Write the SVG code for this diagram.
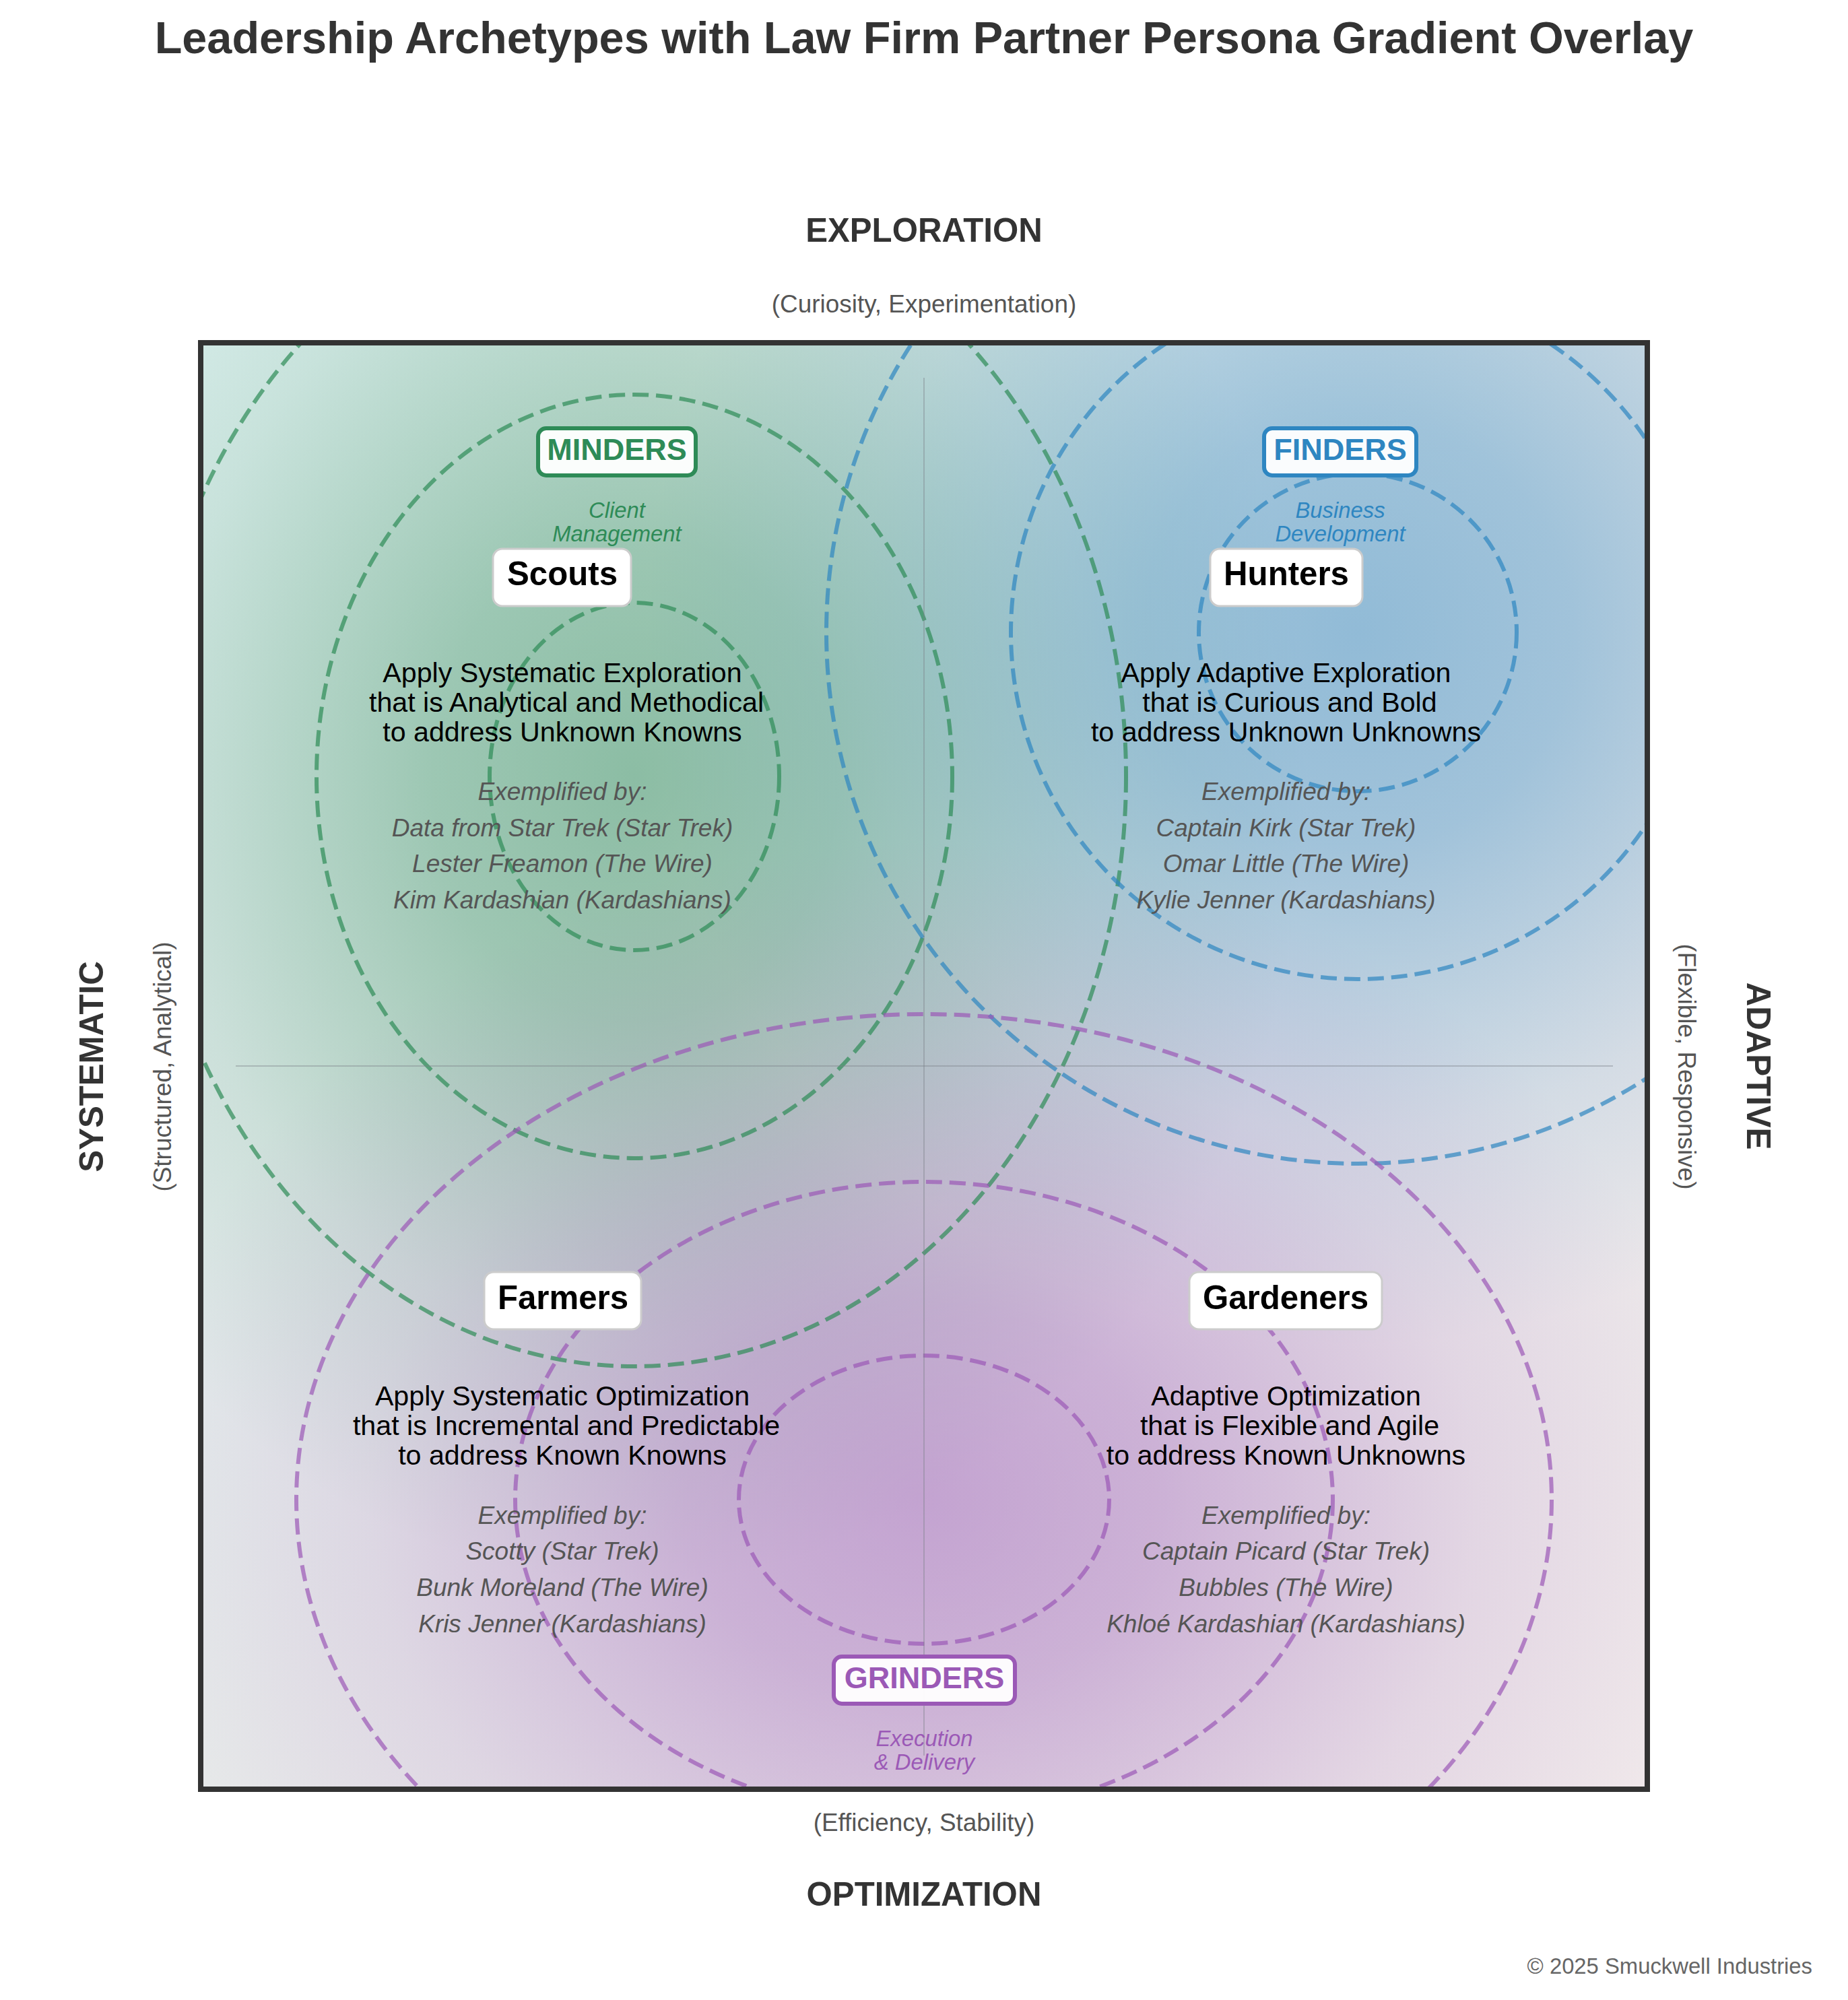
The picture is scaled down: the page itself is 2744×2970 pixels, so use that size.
<svg xmlns="http://www.w3.org/2000/svg" width="2744" height="2970" viewBox="0 0 2744 2970">
<defs>
<style>
text{font-family:"Liberation Sans",Arial,Helvetica,sans-serif;}
.title{font-size:66.6px;font-weight:bold;fill:#333;text-anchor:middle;}
.axis{font-size:49.2px;font-weight:bold;fill:#333;text-anchor:middle;}
.axsub{font-size:36.9px;fill:#555;text-anchor:middle;}
.copy{font-size:32.8px;fill:#666;text-anchor:end;}
.nbox{fill:#fff;stroke:#cccccc;stroke-width:3;}
.nname{font-size:49.2px;font-weight:bold;fill:#000;text-anchor:middle;}
.desc{font-size:41.2px;fill:#000;text-anchor:middle;}
.ex{font-size:37px;font-style:italic;fill:#555;text-anchor:middle;}
.lbox{fill:#fff;fill-opacity:0.95;stroke-width:6;}
.lname{font-size:45px;font-weight:bold;text-anchor:middle;}
.lsub{font-size:32.8px;font-style:italic;text-anchor:middle;}
.ring{fill:none;stroke-width:6;stroke-dasharray:24 11;stroke-opacity:0.7;}
.green{stroke:#2e8b57;}
.blue{stroke:#2e86c1;}
.purple{stroke:#9b59b6;}
.divider{stroke:#7a7f88;stroke-opacity:0.4;stroke-width:2;}
</style>
<clipPath id="frameClip"><rect x="298" y="509" width="2148" height="2148"/></clipPath>
<linearGradient id="baseGrad" gradientUnits="userSpaceOnUse" x1="298" y1="509" x2="2446" y2="2657">
<stop offset="0" stop-color="#dcefee"/>
<stop offset="0.5" stop-color="#e6e8e9"/>
<stop offset="1" stop-color="#efe7ea"/>
</linearGradient>
<radialGradient id="greenGrad" gradientUnits="userSpaceOnUse" cx="942" cy="1153" r="1000" gradientTransform="translate(942 1153) scale(1 1.2) translate(-942 -1153)">
<stop offset="0" stop-color="#2e8b57" stop-opacity="0.48"/>
<stop offset="0.3" stop-color="#2e8b57" stop-opacity="0.38"/>
<stop offset="0.7" stop-color="#2e8b57" stop-opacity="0.12"/>
<stop offset="1" stop-color="#2e8b57" stop-opacity="0"/>
</radialGradient>
<radialGradient id="blueGrad" gradientUnits="userSpaceOnUse" cx="2016" cy="939" r="1060">
<stop offset="0" stop-color="#2e86c1" stop-opacity="0.46"/>
<stop offset="0.3" stop-color="#2e86c1" stop-opacity="0.38"/>
<stop offset="0.7" stop-color="#2e86c1" stop-opacity="0.12"/>
<stop offset="1" stop-color="#2e86c1" stop-opacity="0"/>
</radialGradient>
<radialGradient id="purpleGrad" gradientUnits="userSpaceOnUse" cx="1372" cy="2227" r="980" gradientTransform="translate(1372 2227) scale(1.2 1) translate(-1372 -2227)">
<stop offset="0" stop-color="#9b59b6" stop-opacity="0.48"/>
<stop offset="0.3" stop-color="#9b59b6" stop-opacity="0.38"/>
<stop offset="0.7" stop-color="#9b59b6" stop-opacity="0.12"/>
<stop offset="1" stop-color="#9b59b6" stop-opacity="0"/>
</radialGradient>
</defs>

<rect width="2744" height="2970" fill="#ffffff"/>

<text class="title" x="1372" y="79">Leadership Archetypes with Law Firm Partner Persona Gradient Overlay</text>

<g id="background" clip-path="url(#frameClip)">
<rect x="298" y="509" width="2148" height="2148" fill="url(#baseGrad)"/>
<rect x="298" y="509" width="2148" height="2148" fill="url(#greenGrad)"/>
<rect x="298" y="509" width="2148" height="2148" fill="url(#blueGrad)"/>
<rect x="298" y="509" width="2148" height="2148" fill="url(#purpleGrad)"/>
</g>

<g id="rings" clip-path="url(#frameClip)">
<ellipse class="ring green" cx="942" cy="1153" rx="215" ry="258"/>
<ellipse class="ring green" cx="942" cy="1153" rx="472" ry="567"/>
<ellipse class="ring green" cx="942" cy="1153" rx="730" ry="876"/>
<circle class="ring blue" cx="2016" cy="939" r="236"/>
<circle class="ring blue" cx="2016" cy="939" r="515"/>
<circle class="ring blue" cx="2016" cy="939" r="789"/>
<ellipse class="ring purple" cx="1372" cy="2227" rx="275" ry="214"/>
<ellipse class="ring purple" cx="1372" cy="2227" rx="607" ry="472"/>
<ellipse class="ring purple" cx="1372" cy="2227" rx="932" ry="721"/>
</g>

<g id="connectors">
<line class="divider" x1="1372" y1="561" x2="1372" y2="2607"/>
<line class="divider" x1="350" y1="1583" x2="2395" y2="1583"/>
</g>

<rect id="frame" x="298" y="509" width="2148" height="2148" fill="none" stroke="#333" stroke-width="8"/>

<g id="axis-labels">
<text class="axis" x="1372" y="359">EXPLORATION</text>
<text class="axsub" x="1372" y="464">(Curiosity, Experimentation)</text>
<text class="axsub" x="1372" y="2719">(Efficiency, Stability)</text>
<text class="axis" x="1372" y="2830">OPTIMIZATION</text>
<text class="axis" transform="translate(153 1584) rotate(-90)">SYSTEMATIC</text>
<text class="axsub" transform="translate(254 1584) rotate(-90)">(Structured, Analytical)</text>
<text class="axis" transform="translate(2594 1583) rotate(90)">ADAPTIVE</text>
<text class="axsub" transform="translate(2492 1584) rotate(90)">(Flexible, Responsive)</text>
</g>

<g id="label-minders">
<rect class="lbox" x="799" y="636" width="234" height="70" rx="12" stroke="#2e8b57"/>
<text class="lname" x="916" y="683" fill="#2e8b57">MINDERS</text>
<text class="lsub" x="916" y="769" fill="#2e8b57">Client</text>
<text class="lsub" x="916" y="804" fill="#2e8b57">Management</text>
</g>

<g id="label-finders">
<rect class="lbox" x="1877" y="636" width="226" height="70" rx="12" stroke="#2e86c1"/>
<text class="lname" x="1990" y="683" fill="#2e86c1">FINDERS</text>
<text class="lsub" x="1990" y="769" fill="#2e86c1">Business</text>
<text class="lsub" x="1990" y="804" fill="#2e86c1">Development</text>
</g>

<g id="label-grinders">
<rect class="lbox" x="1238" y="2460" width="269" height="70" rx="12" stroke="#9b59b6"/>
<text class="lname" x="1372.5" y="2507" fill="#9b59b6">GRINDERS</text>
<text class="lsub" x="1372.5" y="2593" fill="#9b59b6">Execution</text>
<text class="lsub" x="1372.5" y="2628" fill="#9b59b6">&amp; Delivery</text>
</g>

<g id="node-scouts">
<rect class="nbox" x="732" y="815" width="205" height="85" rx="14"/>
<text class="nname" x="835" y="869">Scouts</text>
<text class="desc" x="835" y="1013">Apply Systematic Exploration</text>
<text class="desc" x="841" y="1057">that is Analytical and Methodical</text>
<text class="desc" x="835" y="1101">to address Unknown Knowns</text>
<text class="ex" x="835" y="1188">Exemplified by:</text>
<text class="ex" x="835" y="1242">Data from Star Trek (Star Trek)</text>
<text class="ex" x="835" y="1295">Lester Freamon (The Wire)</text>
<text class="ex" x="835" y="1349">Kim Kardashian (Kardashians)</text>
</g>

<g id="node-hunters">
<rect class="nbox" x="1797" y="815" width="226" height="85" rx="14"/>
<text class="nname" x="1910" y="869">Hunters</text>
<text class="desc" x="1909.5" y="1013">Apply Adaptive Exploration</text>
<text class="desc" x="1915" y="1057">that is Curious and Bold</text>
<text class="desc" x="1909.5" y="1101">to address Unknown Unknowns</text>
<text class="ex" x="1909.5" y="1188">Exemplified by:</text>
<text class="ex" x="1909.5" y="1242">Captain Kirk (Star Trek)</text>
<text class="ex" x="1909.5" y="1295">Omar Little (The Wire)</text>
<text class="ex" x="1909.5" y="1349">Kylie Jenner (Kardashians)</text>
</g>

<g id="node-farmers">
<rect class="nbox" x="719" y="1889" width="233" height="85" rx="14"/>
<text class="nname" x="836" y="1944">Farmers</text>
<text class="desc" x="835" y="2087">Apply Systematic Optimization</text>
<text class="desc" x="841" y="2131">that is Incremental and Predictable</text>
<text class="desc" x="835" y="2175">to address Known Knowns</text>
<text class="ex" x="835" y="2263">Exemplified by:</text>
<text class="ex" x="835" y="2316">Scotty (Star Trek)</text>
<text class="ex" x="835" y="2370">Bunk Moreland (The Wire)</text>
<text class="ex" x="835" y="2424">Kris Jenner (Kardashians)</text>
</g>

<g id="node-gardeners">
<rect class="nbox" x="1766" y="1889" width="286" height="85" rx="14"/>
<text class="nname" x="1909" y="1944">Gardeners</text>
<text class="desc" x="1909.5" y="2087">Adaptive Optimization</text>
<text class="desc" x="1915" y="2131">that is Flexible and Agile</text>
<text class="desc" x="1909.5" y="2175">to address Known Unknowns</text>
<text class="ex" x="1909.5" y="2263">Exemplified by:</text>
<text class="ex" x="1909.5" y="2316">Captain Picard (Star Trek)</text>
<text class="ex" x="1909.5" y="2370">Bubbles (The Wire)</text>
<text class="ex" x="1909.5" y="2424">Khloé Kardashian (Kardashians)</text>
</g>

<text class="copy" x="2691" y="2931">© 2025 Smuckwell Industries</text>
</svg>
